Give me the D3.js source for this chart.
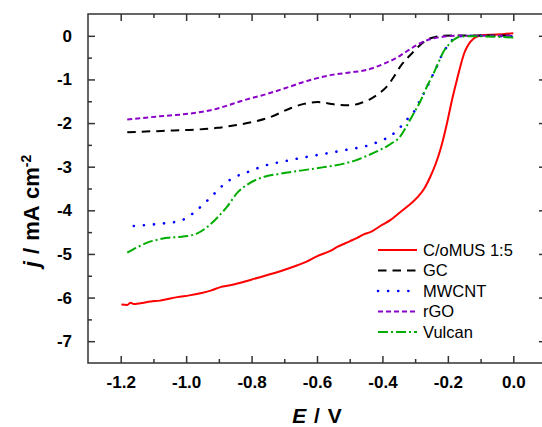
<!DOCTYPE html>
<html>
<head>
<meta charset="utf-8">
<script src="https://cdn.jsdelivr.net/npm/d3@7"></script>
<style>
  body { margin: 0; background: #fff; }
  svg { display: block; font-family: "Liberation Sans", Arial, sans-serif; }
</style>
</head>
<body>
<div id="chart"></div>
<script>
const width = 542;
const height = 427;
const margin = { top: 14, right: -4, bottom: 64, left: 88 };

// series: [E (V), j (mA cm-2)]
const seriesNames = ['C/oMUS 1:5', 'GC', 'MWCNT', 'rGO', 'Vulcan'];

const coMUS = [
  [-1.198, -6.16], [-1.18, -6.17], [-1.17, -6.12], [-1.16, -6.15], [-1.14, -6.13], [-1.108, -6.09],
  [-1.08, -6.07], [-1.06, -6.04], [-1.027, -5.99], [-0.99, -5.95], [-0.956, -5.90],
  [-0.925, -5.84], [-0.895, -5.76], [-0.865, -5.72], [-0.834, -5.66], [-0.783, -5.55],
  [-0.722, -5.42], [-0.690, -5.34], [-0.660, -5.26], [-0.630, -5.17], [-0.599, -5.05],
  [-0.559, -4.93], [-0.538, -4.84], [-0.500, -4.71], [-0.477, -4.63], [-0.457, -4.55],
  [-0.437, -4.50], [-0.400, -4.33], [-0.375, -4.22], [-0.355, -4.10], [-0.325, -3.92],
  [-0.294, -3.71], [-0.272, -3.50], [-0.253, -3.22], [-0.238, -2.95], [-0.223, -2.61],
  [-0.212, -2.30], [-0.202, -1.98], [-0.187, -1.46], [-0.172, -1.00], [-0.160, -0.65],
  [-0.150, -0.40], [-0.137, -0.20], [-0.121, -0.06], [-0.105, 0.0], [-0.09, 0.02],
  [-0.05, 0.03], [0.0, 0.06]
];

const gc = [
  [-1.18, -2.21], [-1.11, -2.19], [-1.037, -2.17], [-0.97, -2.15], [-0.905, -2.11],
  [-0.86, -2.06], [-0.813, -2.0], [-0.742, -1.86], [-0.681, -1.66], [-0.640, -1.56],
  [-0.599, -1.52], [-0.565, -1.55], [-0.538, -1.58], [-0.498, -1.59], [-0.470, -1.55],
  [-0.437, -1.45], [-0.410, -1.32], [-0.386, -1.16], [-0.365, -0.94], [-0.345, -0.70],
  [-0.325, -0.52], [-0.304, -0.36], [-0.283, -0.20], [-0.263, -0.09], [-0.240, -0.03],
  [-0.213, 0.0], [-0.15, 0.01], [0.0, 0.01]
];

const mwcnt = [
  [-1.16, -4.36], [-1.11, -4.33], [-1.068, -4.30], [-1.03, -4.26], [-1.002, -4.19],
  [-0.971, -4.02], [-0.940, -3.81], [-0.910, -3.59], [-0.879, -3.37], [-0.849, -3.23],
  [-0.818, -3.14], [-0.757, -2.97], [-0.696, -2.87], [-0.635, -2.78], [-0.574, -2.70],
  [-0.508, -2.61], [-0.447, -2.52], [-0.410, -2.42], [-0.376, -2.30], [-0.350, -2.13],
  [-0.325, -1.92], [-0.300, -1.70], [-0.284, -1.46], [-0.265, -1.20], [-0.253, -1.0],
  [-0.238, -0.78], [-0.223, -0.51], [-0.212, -0.36], [-0.202, -0.24], [-0.187, -0.10],
  [-0.172, -0.02], [-0.14, 0.0], [0.0, -0.01]
];

const rgo = [
  [-1.18, -1.92], [-1.088, -1.85], [-0.986, -1.78], [-0.950, -1.74], [-0.915, -1.69],
  [-0.875, -1.60], [-0.834, -1.50], [-0.752, -1.33], [-0.681, -1.16], [-0.650, -1.08],
  [-0.599, -0.97], [-0.549, -0.89], [-0.500, -0.84], [-0.447, -0.78], [-0.415, -0.70],
  [-0.386, -0.61], [-0.360, -0.52], [-0.335, -0.40], [-0.310, -0.28], [-0.284, -0.17],
  [-0.255, -0.08], [-0.223, -0.03], [-0.172, 0.0], [0.0, 0.0]
];

const vulcan = [
  [-1.18, -4.97], [-1.15, -4.85], [-1.119, -4.74], [-1.085, -4.67], [-1.057, -4.63],
  [-1.02, -4.61], [-0.996, -4.59], [-0.966, -4.53], [-0.935, -4.38], [-0.905, -4.17],
  [-0.874, -3.91], [-0.844, -3.60], [-0.813, -3.41], [-0.773, -3.26], [-0.711, -3.16],
  [-0.650, -3.09], [-0.579, -3.01], [-0.518, -2.93], [-0.480, -2.85], [-0.447, -2.75],
  [-0.406, -2.61], [-0.375, -2.48], [-0.345, -2.30], [-0.330, -2.12], [-0.315, -1.92],
  [-0.300, -1.72], [-0.284, -1.50], [-0.265, -1.18], [-0.243, -0.85], [-0.228, -0.60],
  [-0.213, -0.36], [-0.197, -0.20], [-0.182, -0.09], [-0.162, -0.02], [-0.12, -0.01],
  [0.0, -0.04]
];

const xTicks = [-1.2, -1.0, -0.8, -0.6, -0.4, -0.2, 0.0];
const xMinor = [-1.1, -0.9, -0.7, -0.5, -0.3, -0.1];
const yTicks = [0, -1, -2, -3, -4, -5, -6, -7];
const yMinor = [-0.5, -1.5, -2.5, -3.5, -4.5, -5.5, -6.5];

const styles = [
  { data: coMUS, color: '#ff0000', dash: null, cap: 'butt' },
  { data: gc, color: '#000000', dash: '8.5,6', cap: 'butt' },
  { data: mwcnt, color: '#0000ff', dash: '0.1,10', cap: 'round' },
  { data: rgo, color: '#8a00c8', dash: '5,3', cap: 'butt' },
  { data: vulcan, color: '#00ad00', dash: '10,3,2,3', cap: 'butt' }
];

const x = d3.scaleLinear()
  .domain([-1.3, 0.1])
  .range([margin.left, width - margin.right]);

const y = d3.scaleLinear()
  .domain([-7.5, 0.5])
  .range([height - margin.bottom, margin.top]);

const svg = d3.select('#chart').append('svg')
  .attr('width', width)
  .attr('height', height);

const axisColor = '#333';

// frame
svg.append('rect')
  .attr('x', x(-1.3))
  .attr('y', y(0.5))
  .attr('width', x(0.1) - x(-1.3))
  .attr('height', y(-7.5) - y(0.5))
  .attr('fill', 'none')
  .attr('stroke', axisColor)
  .attr('stroke-width', 1.5);

// helper for tick-only axes
function ticksOnly(axisFn, pos, values, size, horizontal) {
  const g = svg.append('g')
    .attr('transform', horizontal ? `translate(0, ${pos})` : `translate(${pos}, 0)`)
    .call(axisFn.tickValues(values).tickSize(size).tickFormat(''));
  g.select('.domain').remove();
  g.selectAll('line').attr('stroke', axisColor).attr('stroke-width', 1.5);
  return g;
}

// bottom axis with labels
const bottomAxis = svg.append('g')
  .attr('transform', `translate(0, ${y(-7.5)})`)
  .call(d3.axisBottom(x).tickValues(xTicks).tickSize(-7).tickPadding(13)
    .tickFormat(d => d3.format('.1f')(d).replace('−', '-')));
bottomAxis.select('.domain').remove();
bottomAxis.selectAll('line').attr('stroke', axisColor).attr('stroke-width', 1.5);
bottomAxis.selectAll('text')
  .attr('font-size', '17px')
  .attr('font-weight', 'bold')
  .attr('fill', '#000');

ticksOnly(d3.axisBottom(x), y(-7.5), xMinor, -4, true);
ticksOnly(d3.axisTop(x), y(0.5), xTicks, -7, true);
ticksOnly(d3.axisTop(x), y(0.5), xMinor, -4, true);

// left axis with labels
const leftAxis = svg.append('g')
  .attr('transform', `translate(${x(-1.3)}, 0)`)
  .call(d3.axisLeft(y).tickValues(yTicks).tickSize(-7).tickPadding(16)
    .tickFormat(d => String(d)));
leftAxis.select('.domain').remove();
leftAxis.selectAll('line').attr('stroke', axisColor).attr('stroke-width', 1.5);
leftAxis.selectAll('text')
  .attr('font-size', '17px')
  .attr('font-weight', 'bold')
  .attr('fill', '#000');

ticksOnly(d3.axisLeft(y), x(-1.3), yMinor, -4, false);
ticksOnly(d3.axisRight(y), x(0.1), yTicks, -7, false);
ticksOnly(d3.axisRight(y), x(0.1), yMinor, -4, false);

// curves
const line = d3.line()
  .x(d => x(d[0]))
  .y(d => y(d[1]))
  .curve(d3.curveMonotoneX);

styles.forEach(s => {
  svg.append('path')
    .datum(s.data)
    .attr('fill', 'none')
    .attr('stroke', s.color)
    .attr('stroke-width', s.cap === 'round' ? 2.6 : 2)
    .attr('stroke-linecap', s.cap)
    .attr('stroke-dasharray', s.dash)
    .attr('d', line);
});

// legend
const legend = svg.append('g')
  .attr('transform', 'translate(378, 250)');

const rows = legend.selectAll('g')
  .data(seriesNames)
  .join('g')
    .attr('transform', (d, i) => `translate(0, ${i * 20.5})`);

rows.append('line')
  .attr('x1', 0)
  .attr('x2', 39)
  .attr('y1', 0)
  .attr('y2', 0)
  .attr('stroke', (d, i) => styles[i].color)
  .attr('stroke-width', (d, i) => styles[i].cap === 'round' ? 2.6 : 2)
  .attr('stroke-linecap', (d, i) => styles[i].cap)
  .attr('stroke-dasharray', (d, i) => styles[i].dash);

rows.append('text')
  .attr('x', 45)
  .attr('y', 0)
  .attr('dy', '0.35em')
  .attr('font-size', '16.5px')
  .attr('fill', '#000')
  .text(d => d);

// axis titles
const xTitle = svg.append('text')
  .attr('x', (x(-1.3) + x(0.1)) / 2)
  .attr('y', 423)
  .attr('text-anchor', 'middle')
  .attr('font-size', '21px')
  .attr('font-weight', 'bold')
  .attr('word-spacing', '2px');
xTitle.append('tspan').attr('font-style', 'italic').text('E');
xTitle.append('tspan').text(' / V');

const yTitle = svg.append('text')
  .attr('transform', 'translate(39, 211) rotate(-90)')
  .attr('text-anchor', 'middle')
  .attr('font-size', '22px')
  .attr('font-weight', 'bold')
  .attr('word-spacing', '1px');
yTitle.append('tspan').attr('font-style', 'italic').text('j');
yTitle.append('tspan').text(' / mA cm');
yTitle.append('tspan').attr('dy', '-0.55em').attr('font-size', '14px').text('-2');
</script>
</body>
</html>
